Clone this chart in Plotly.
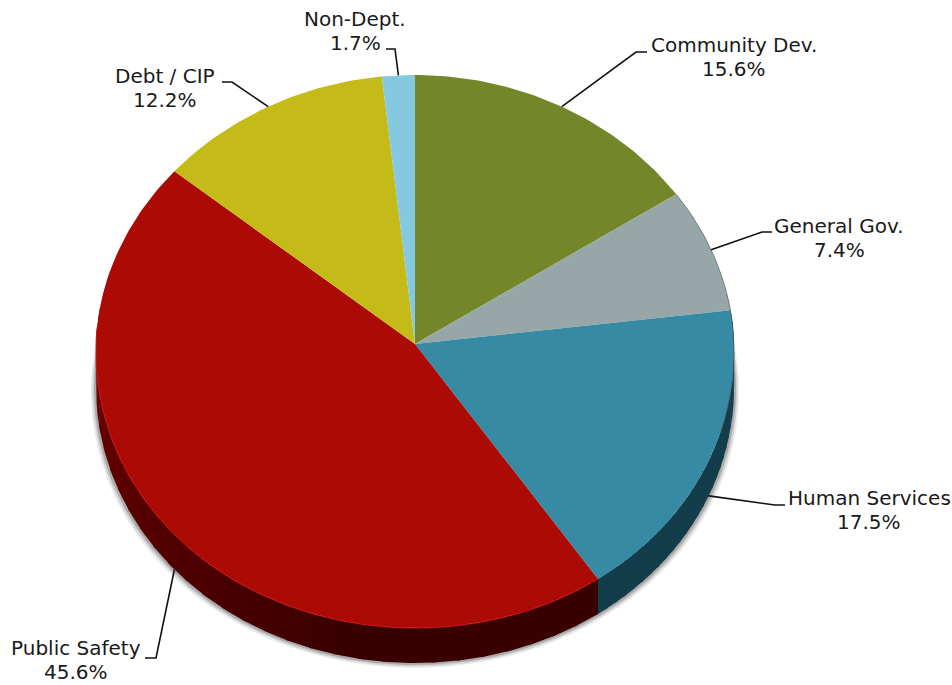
import numpy as np
import plotly.graph_objects as go

categories = ["Community Dev.", "General Gov.", "Human Services", "Public Safety", "Debt / CIP", "Non-Dept."]
values = [15.6, 7.4, 17.5, 45.6, 12.2, 1.7]
face_colors = ["#74862a", "#97a7a7", "#368aa3", "#ab0a05", "#c4bb18", "#85c9e0"]
side_light = {"Human Services": (24, 70, 86), "Public Safety": (112, 0, 0)}
side_dark = {"Human Services": (17, 52, 64), "Public Safety": (58, 0, 0)}

CX, CY, RX, RY_TOP, RY_BOT, DEPTH, TAPER = 415, 344, 319, 269, 284, 35, 0.025
FONT = dict(family="DejaVu Sans, Verdana, sans-serif", size=20, color="#1a1a1a")
LINE_GAP = 12

# pixel layout of the label text and leader elbows (label centre, line-1/2 block centre, elbow, end)
label_pos = {
    "Community Dev.": (734, 57, (636, 52), (647, 52)),
    "General Gov.": (839, 238, (762, 232), (772, 232)),
    "Human Services": (869, 510, (775, 505), (785, 505)),
    "Public Safety": (76, 660, (156, 658), (145, 658)),
    "Debt / CIP": (165, 88, (232, 82), (222, 82)),
    "Non-Dept.": (355, 31, (395, 49), (386, 49)),
}


def rim(frac, dy=0.0):
    t = 2 * np.pi * np.asarray(frac, dtype=float)
    c = np.cos(t)
    x = CX + RX * np.sin(t) * (1 - TAPER * c)
    y = CY - np.where(c > 0, RY_TOP, RY_BOT) * c + dy
    return x, y


fig = go.Figure()
poly = dict(mode="lines", fill="toself", line=dict(width=0), hoverinfo="skip", showlegend=False)

ends = np.cumsum(values) / sum(values)
starts = np.concatenate([[0], ends[:-1]])

# soft shadow under the extruded rim
for spread, op in [(5, 0.10), (3.5, 0.16), (2, 0.28)]:
    f = np.linspace(0.22, 0.80, 240)
    x0, y0 = rim(f, DEPTH + spread)
    x1, y1 = rim(f[::-1])
    sx = CX + (x0 - CX) * (1 + spread / RX)
    fig.add_trace(go.Scatter(x=np.r_[sx, x1], y=np.r_[y0, y1], fillcolor=f"rgba(70,70,70,{op})", **poly))

# extruded side, in shaded steps
for name, s, e in zip(categories, starts, ends):
    if name not in side_light:
        continue
    lo, hi = max(s, 0.23), min(e, 0.77)
    edges = np.linspace(lo, hi, 31)
    for i in range(30):
        f = np.linspace(edges[i], edges[i + 1] + 0.0015, 6)
        if name == "Human Services":
            k = 0.5
        else:
            k = min(1, abs(edges[i] - 0.77) / (0.77 - 0.53))
        col = [round(a + (b - a) * k) for a, b in zip(side_light[name], side_dark[name])]
        xt, yt = rim(f)
        xb, yb = rim(f[::-1], DEPTH)
        fig.add_trace(go.Scatter(x=np.r_[xt, xb], y=np.r_[yt, yb], fillcolor=f"rgb({col[0]},{col[1]},{col[2]})", **poly))

# top faces
for name, s, e, col in zip(categories, starts, ends, face_colors):
    f = np.linspace(s, e, max(int((e - s) * 400), 8))
    x, y = rim(f)
    fig.add_trace(go.Scatter(x=np.r_[CX, x, CX], y=np.r_[CY, y, CY], fillcolor=col, name=name, **poly))

# rim highlights
idx = categories.index("Public Safety")
f = np.linspace(starts[idx], 0.76, 160)
x, y = rim(f)
fig.add_trace(go.Scatter(x=x, y=y, mode="lines", line=dict(color="#cf1414", width=1), hoverinfo="skip", showlegend=False))
idx = categories.index("General Gov.")
f = np.linspace(starts[idx], 0.30, 60)
x, y = rim(f)
fig.add_trace(go.Scatter(x=x, y=y, mode="lines", line=dict(color="rgba(60,70,75,0.55)", width=1), hoverinfo="skip", showlegend=False))

# leader lines + labels
annotations = []
for name, v, s, e in zip(categories, values, starts, ends):
    lx, ly, elbow, tip = label_pos[name]
    m = (s + e) / 2
    ax, ay = rim(m, DEPTH if np.cos(2 * np.pi * m) < 0 else 0)
    fig.add_trace(go.Scatter(x=[float(ax), elbow[0], tip[0]], y=[float(ay), elbow[1], tip[1]], mode="lines",
                             line=dict(color="#111111", width=1.6), hoverinfo="skip", showlegend=False))
    for text, yy in ((name, ly - LINE_GAP), (f"{v}%", ly + LINE_GAP)):
        annotations.append(dict(x=lx, y=yy, xref="x", yref="y", text=text, showarrow=False,
                                font=FONT, align="center", xanchor="center", yanchor="middle"))

fig.update_layout(
    width=952, height=685, margin=dict(l=0, r=0, t=0, b=0), autosize=False,
    paper_bgcolor="white", plot_bgcolor="white", showlegend=False, annotations=annotations,
    xaxis=dict(range=[0, 952], visible=False, fixedrange=True),
    yaxis=dict(range=[685, 0], visible=False, fixedrange=True),
)
fig.write_html("out.html", config=dict(displayModeBar=False),
               post_script="document.body.style.margin='0';document.body.style.overflow='hidden';")
